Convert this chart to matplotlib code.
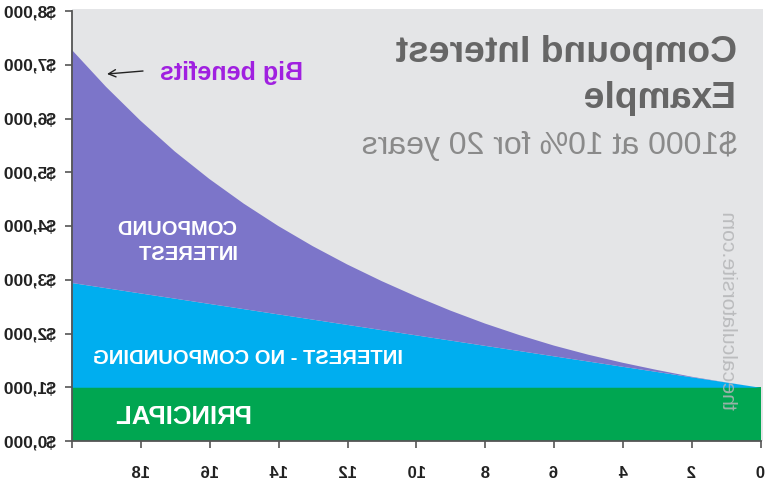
"""Compound interest example, stacked areas, saved as a mirrored picture."""

import numpy as np
import matplotlib
matplotlib.use("Agg")
import matplotlib.pyplot as plt
from matplotlib.patches import Rectangle

# -----------------------------
# Data
# -----------------------------
years = [0, 1, 2, 3, 4, 5, 6, 7, 8, 9, 10,
         11, 12, 13, 14, 15, 16, 17, 18, 19, 20]
principal = [1000] * 21
simple_total = [1000, 1098, 1195, 1293, 1390, 1488, 1585, 1683, 1780, 1878, 1975,
                2073, 2170, 2268, 2365, 2463, 2560, 2658, 2755, 2853, 2950]
compound_total = [1000, 1100, 1205, 1330, 1465, 1615, 1785, 1980, 2195, 2435, 2700,
                  2985, 3295, 3635, 4010, 4425, 4885, 5395, 5970, 6600, 7293]

x_ticks = [0, 2, 4, 6, 8, 10, 12, 14, 16, 18, 20]
x_labels = ["0", "2", "4", "6", "8", "10", "12", "14", "16", "18", ""]
y_ticks = [0, 1000, 2000, 3000, 4000, 5000, 6000, 7000, 8000]
y_labels = ["$0,000", "$1,000", "$2,000", "$3,000", "$4,000",
            "$5,000", "$6,000", "$7,000", "$8,000"]

W, H = 768, 484
plt.rcParams["font.family"] = ["Liberation Sans", "DejaVu Sans"]

fig = plt.figure(figsize=(W / 100, H / 100), dpi=100, facecolor="white")

# grey panel behind the axes
fig.patches.append(Rectangle((5 / W, 1 - 441 / H), 691 / W, 432 / H,
                             transform=fig.transFigure, facecolor="#E4E5E7",
                             edgecolor="none", zorder=0))

ax = fig.add_axes([7 / W, 1 - 441 / H, 689 / W, 430 / H], zorder=1)
ax.patch.set_visible(False)

ax.fill_between(years, 0, principal, color="#00A651", lw=0)
ax.fill_between(years, principal, simple_total, color="#00AEEF", lw=0)
ax.fill_between(years, simple_total, compound_total, color="#7C75C9", lw=0)

ax.set_xlim(0, 20)
ax.set_ylim(0, 8000)
ax.set_xticks(x_ticks, x_labels)
ax.set_yticks(y_ticks, y_labels)
ax.yaxis.tick_right()

for side in ["left", "top"]:
    ax.spines[side].set_visible(False)
for side in ["right", "bottom"]:
    ax.spines[side].set_color("#555555")
    ax.spines[side].set_linewidth(1.3)
ax.tick_params(axis="both", length=5, width=1.2, color="#555555",
               labelcolor="#222222")
ax.tick_params(axis="x", labelsize=12, pad=13)
ax.tick_params(axis="y", labelsize=12.5, pad=6)
for label in ax.get_xticklabels() + ax.get_yticklabels():
    label.set_fontweight("bold")


def put(x, y, text, **kw):
    # x, y in pixels of the unmirrored picture, y from the top, on the baseline
    fig.text(x / W, 1 - y / H, text, va="baseline", ha="left", zorder=3, **kw)


put(31, 62, "Compound Interest", fontsize=26.8, fontweight="bold", color="#666666")
put(31, 108, "Example", fontsize=26.8, fontweight="bold", color="#666666")
put(31, 154, "$1000 at 10% for 20 years", fontsize=23, color="#8A8A8A")
put(465, 80, "Big benefits", fontsize=18, fontweight="bold", color="#A020E0")
put(530, 235, "COMPOUND", fontsize=14.5, fontweight="bold", color="white")
put(530, 260, "INTEREST", fontsize=14.5, fontweight="bold", color="white")
put(365, 364, "INTEREST - NO COMPOUNDING", fontsize=14.5, fontweight="bold", color="white")
put(515, 424, "PRINCIPAL", fontsize=18.5, fontweight="bold", color="white")

fig.text(46 / W, 1 - 410 / H, "thecalculatorsite.com", rotation=90,
         rotation_mode="anchor", va="baseline", ha="left", fontsize=15.3,
         color="#B4B5B7", alpha=0.85, zorder=3)

ax.annotate("", xy=(661, H - 74), xytext=(625, H - 71),
            xycoords="figure pixels", textcoords="figure pixels",
            arrowprops=dict(arrowstyle="->", color="#222222", lw=1,
                            shrinkA=0, shrinkB=0, mutation_scale=13))

# the reference is a left-right mirror image, so flip the finished raster
fig.canvas.draw()
pixels = np.asarray(fig.canvas.buffer_rgba())
plt.imsave("out.png", np.fliplr(pixels))
